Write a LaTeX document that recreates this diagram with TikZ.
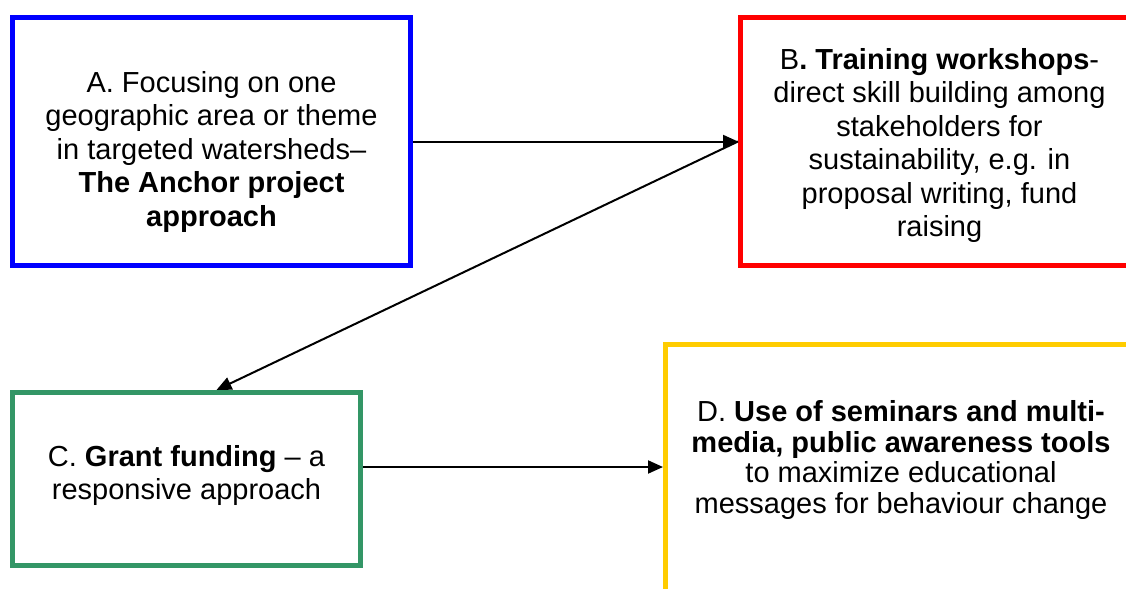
\documentclass[tikz,border=0pt]{standalone}
\usepackage{fontspec}
\setmainfont{Liberation Sans}
\usepackage{xcolor}
\usepackage{tikz}
\usetikzlibrary{arrows.meta,positioning,calc}

\definecolor{boxblue}{RGB}{0,0,255}
\definecolor{boxred}{RGB}{255,0,0}
\definecolor{boxgreen}{RGB}{51,150,102}
\definecolor{boxyellow}{RGB}{255,204,0}
\newcommand{\boxfont}{\fontsize{14.5pt}{16.75pt}\selectfont}
\newcommand{\tightfont}{\fontsize{14.5pt}{15.2pt}\selectfont}

\begin{document}
\begin{tikzpicture}[
    x=0.5pt, y=-0.5pt,
    box/.style={draw, line width=2.5pt},
    boxtext/.style={align=center, font=\boxfont},
    arrow/.style={-{Triangle[length=7.5pt,width=6.5pt]}, line width=1pt, draw=black}
]
    \useasboundingbox (0,0) rectangle (1126,589);
    \clip (0,0) rectangle (1126,589);

    % Boxes
    \node[box, draw=boxblue, minimum width=199pt, minimum height=124pt,
        label={[boxtext, yshift=-5.25pt]center:{A. Focusing on one\\geographic area or theme\\in targeted watersheds--\\\textbf{The Anchor project}\\\textbf{approach}}}] (anchor) at (211.5,141.5) {};
    \node[box, draw=boxred, minimum width=199pt, minimum height=124pt,
        label={[boxtext, yshift=-2pt]center:{B\textbf{. Training workshops}-\\direct skill building among\\stakeholders for\\sustainability, e.g. in\\proposal writing, fund\\raising}}] (workshops) at (939.5,141.5) {};
    \node[box, draw=boxgreen, minimum width=174pt, minimum height=86.5pt,
        label={[boxtext, yshift=1.75pt]center:{C. \textbf{Grant funding} -- a\\responsive approach}}] (grant) at (186.5,479) {};
    \node[box, draw=boxyellow, minimum width=235.5pt, minimum height=128pt,
        label={[boxtext, font=\tightfont, yshift=6pt]center:{D. \textbf{Use of seminars and multi-}\\\textbf{media, public awareness tools}\\to maximize educational\\messages for behaviour change}}] (seminars) at (901,472) {};

    % Connectors
    \draw[arrow] (anchor.east) -- (workshops.west);
    \draw[arrow] (workshops.west) -- ([xshift=15pt]grant.north);
    \draw[arrow] ([yshift=6pt]grant.east) -- ([yshift=6pt]grant.east -| seminars.west);

\end{tikzpicture}
\end{document}
